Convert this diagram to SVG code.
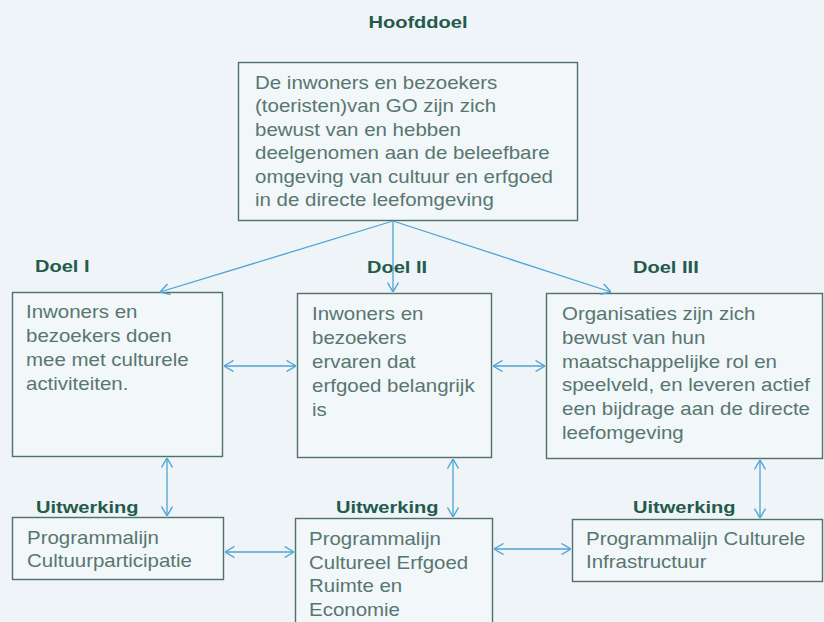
<svg xmlns="http://www.w3.org/2000/svg" width="824" height="622" viewBox="0 0 824 622">
<style>
.bg{fill:#eef4f7}
.box{fill:#f2f7f9;stroke:#52706a;stroke-width:1.4}
.t{font-family:"Liberation Sans",Arial,sans-serif;font-size:17.5px;fill:#587670}
.lab{font-family:"Liberation Sans",Arial,sans-serif;font-size:17px;font-weight:bold;fill:#245a4b}
.c{fill:none;stroke:#4fa3d6;stroke-width:1.3}
</style>
<defs>
<marker id="ah" viewBox="0 0 10 12" refX="10" refY="6" markerWidth="10" markerHeight="12" markerUnits="userSpaceOnUse" orient="auto-start-reverse">
<path d="M0.5,0.5 L10,6 L0.5,11.5" fill="none" stroke="#4fa3d6" stroke-width="1.4"/>
</marker>
</defs>
<rect class="bg" x="0" y="0" width="824" height="622"/>

<g id="labels">
<text class="lab" text-anchor="middle" transform="translate(418,28) scale(1.18,1)">Hoofddoel</text>
<text class="lab" transform="translate(35,272) scale(1.18,1)">Doel I</text>
<text class="lab" text-anchor="middle" transform="translate(397,273) scale(1.18,1)">Doel II</text>
<text class="lab" transform="translate(633,273) scale(1.18,1)">Doel III</text>
<text class="lab" transform="translate(36,513) scale(1.18,1)">Uitwerking</text>
<text class="lab" transform="translate(336,513) scale(1.18,1)">Uitwerking</text>
<text class="lab" transform="translate(633,513) scale(1.18,1)">Uitwerking</text>
</g>

<g id="hoofddoel">
<rect class="box" x="238.5" y="62.5" width="339" height="158"/>
<text class="t" transform="translate(255,89) scale(1.17,1)"><tspan x="0" dy="0">De inwoners en bezoekers</tspan><tspan x="0" dy="23.5">(toeristen)van GO zijn zich</tspan><tspan x="0" dy="23.5">bewust van en hebben</tspan><tspan x="0" dy="23.5">deelgenomen aan de beleefbare</tspan><tspan x="0" dy="23.5">omgeving van cultuur en erfgoed</tspan><tspan x="0" dy="23.5">in de directe leefomgeving</tspan></text>
</g>

<g id="doel1">
<rect class="box" x="12.5" y="292.5" width="210" height="164"/>
<text class="t" transform="translate(26,318) scale(1.17,1)"><tspan x="0" dy="0">Inwoners en</tspan><tspan x="0" dy="24">bezoekers doen</tspan><tspan x="0" dy="24">mee met culturele</tspan><tspan x="0" dy="24">activiteiten.</tspan></text>
</g>

<g id="doel2">
<rect class="box" x="297.5" y="293.5" width="194" height="164"/>
<text class="t" transform="translate(312,320) scale(1.17,1)"><tspan x="0" dy="0">Inwoners en</tspan><tspan x="0" dy="24">bezoekers</tspan><tspan x="0" dy="24">ervaren dat</tspan><tspan x="0" dy="24">erfgoed belangrijk</tspan><tspan x="0" dy="24">is</tspan></text>
</g>

<g id="doel3">
<rect class="box" x="546.5" y="293.5" width="276" height="165"/>
<text class="t" transform="translate(562,320) scale(1.17,1)"><tspan x="0" dy="0">Organisaties zijn zich</tspan><tspan x="0" dy="23.8">bewust van hun</tspan><tspan x="0" dy="23.8">maatschappelijke rol en</tspan><tspan x="0" dy="23.8">speelveld, en leveren actief</tspan><tspan x="0" dy="23.8">een bijdrage aan de directe</tspan><tspan x="0" dy="23.8">leefomgeving</tspan></text>
</g>

<g id="prog1">
<rect class="box" x="12.5" y="517.5" width="211" height="62"/>
<text class="t" transform="translate(27,544) scale(1.17,1)"><tspan x="0" dy="0">Programmalijn</tspan><tspan x="0" dy="23.5">Cultuurparticipatie</tspan></text>
</g>

<g id="prog2">
<rect class="box" x="295.5" y="518.5" width="197" height="110"/>
<text class="t" transform="translate(309,545) scale(1.17,1)"><tspan x="0" dy="0">Programmalijn</tspan><tspan x="0" dy="23.7">Cultureel Erfgoed</tspan><tspan x="0" dy="23.7">Ruimte en</tspan><tspan x="0" dy="23.7">Economie</tspan></text>
</g>

<g id="prog3">
<rect class="box" x="572.5" y="519.5" width="250" height="62"/>
<text class="t" transform="translate(586,545) scale(1.17,1)"><tspan x="0" dy="0">Programmalijn Culturele</tspan><tspan x="0" dy="23.5">Infrastructuur</tspan></text>
</g>

<g id="connectors">
<path class="c" d="M393,221 L160,292" marker-end="url(#ah)"/>
<path class="c" d="M393,221 L393,292" marker-end="url(#ah)"/>
<path class="c" d="M393,221 L611,292" marker-end="url(#ah)"/>
<path class="c" d="M224,366 L296,366" marker-start="url(#ah)" marker-end="url(#ah)"/>
<path class="c" d="M493,366 L545,366" marker-start="url(#ah)" marker-end="url(#ah)"/>
<path class="c" d="M167,458 L167,516" marker-start="url(#ah)" marker-end="url(#ah)"/>
<path class="c" d="M453,459 L453,517" marker-start="url(#ah)" marker-end="url(#ah)"/>
<path class="c" d="M760,460 L760,518" marker-start="url(#ah)" marker-end="url(#ah)"/>
<path class="c" d="M225,552 L294,552" marker-start="url(#ah)" marker-end="url(#ah)"/>
<path class="c" d="M494,549 L571,549" marker-start="url(#ah)" marker-end="url(#ah)"/>
</g>
</svg>
